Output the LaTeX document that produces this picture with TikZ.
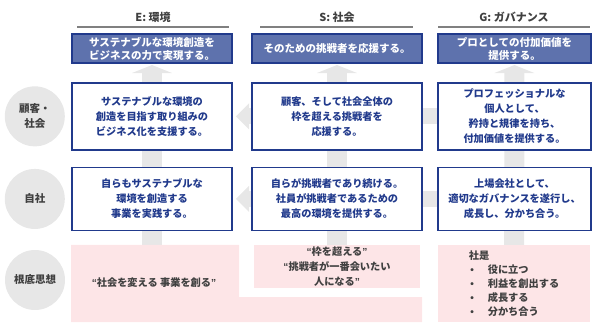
\documentclass[tikz,border=0pt]{standalone}
\usepackage{fontspec}
\setmainfont{Noto Sans CJK JP}
\newfontfamily\quotefont{Liberation Sans}
\usetikzlibrary{positioning, arrows.meta, backgrounds}
\definecolor{esgnavy}{RGB}{33,58,140}
\definecolor{esgblue}{RGB}{94,114,173}
\definecolor{esggray}{RGB}{231,231,231}
\definecolor{esgpink}{RGB}{253,229,231}
\definecolor{esgdark}{RGB}{64,64,64}
\definecolor{esgrule}{RGB}{128,128,128}
\newcommand{\oq}{{\quotefont\bfseries “}}
\newcommand{\cq}{{\quotefont\bfseries ”}}
\newcommand{\bul}{\makebox[19pt][l]{\hspace{1.5pt}{\quotefont •}}}

\begin{document}
\begin{tikzpicture}[
  x=1pt, y=-1pt,
  head/.style={font=\fontsize{11}{13}\selectfont\bfseries, text=esgdark},
  goal/.style={rectangle, draw=esgnavy, line width=1.6pt, fill=esgblue,
               text=white, align=center, minimum height=29.5pt, inner sep=0pt,
               font=\fontsize{10.5}{13}\selectfont\bfseries},
  act/.style={rectangle, draw=esgnavy, line width=1.6pt, fill=white,
              text=esgnavy, align=center, inner sep=0pt,
              font=\fontsize{10.2}{15}\selectfont\bfseries},
  tag/.style={circle, fill=esggray, text=esgdark, align=center,
              minimum size=60pt, inner sep=0pt,
              font=\fontsize{10.5}{15}\selectfont\bfseries},
  root/.style={rectangle, fill=esgpink, text=esgdark, inner sep=0pt,
               font=\fontsize{10.2}{15}\selectfont\bfseries},
  vflow/.style={line width=20pt, draw=esggray,
                -{Triangle[length=8pt, width=40pt, line width=0pt]}},
  hflow/.style={line width=16pt, draw=esggray,
                -{Triangle[length=13pt, width=26pt, line width=0pt]}},
  rule/.style={line width=1.2pt, draw=esgrule}
]
  \useasboundingbox (0,0) rectangle (600,331);

  % column heads
  \node[head] (etitle) at (153,17)   {E: 環境};
  \node[head] (stitle) at (337,17)   {S: 社会};
  \node[head] (gtitle) at (514,17)   {G: ガバナンス};
  \draw[rule] (77,27)  -- (229,27);
  \draw[rule] (260,27) -- (413,27);
  \draw[rule] (438,27) -- (590,27);

  % goals
  \node[goal, minimum width=160.4pt] (etop) at (152,48.5) {サステナブルな環境創造を\\ビジネスの力で実現する。};
  \node[goal, minimum width=170.4pt] (stop) at (337,48.5) {そのための挑戦者を応援する。};
  \node[goal, minimum width=153.4pt] (gtop) at (514.5,48.5) {プロとしての付加価値を\\提供する。};

  % customers / society
  \node[act, minimum width=160.4pt, minimum height=67pt, below=18pt of etop] (eclient)
    {サステナブルな環境の\\創造を目指す取り組みの\\ビジネス化を支援する。};
  \node[act, minimum width=170.4pt, minimum height=67pt, below=18pt of stop] (sclient)
    {顧客、そして社会全体の\\枠を超える挑戦者を\\応援する。};
  \node[act, minimum width=153.4pt, minimum height=67pt, below=18pt of gtop] (gclient)
    {プロフェッショナルな\\個人として、\\矜持と規律を持ち、\\付加価値を提供する。};

  % own company
  \node[act, minimum width=160.4pt, minimum height=63pt, below=16pt of eclient] (eself)
    {自らもサステナブルな\\環境を創造する\\事業を実践する。};
  \node[act, minimum width=170.4pt, minimum height=63pt, below=16pt of sclient] (sself)
    {自らが挑戦者であり続ける。\\社員が挑戦者であるための\\最高の環境を提供する。};
  \node[act, minimum width=153.4pt, minimum height=63pt, below=16pt of gclient] (gself)
    {上場会社として、\\適切なガバナンスを遂行し、\\成長し、分かち合う。};

  % row tags
  \node[tag, left=6pt of eclient] (client) {顧客・\\社会};
  \node[tag, left=6pt of eself]   (self)   {自社};
  \node[tag] (roots) at (35,280) {根底思想};

  % roots
  \fill[esgpink] (71,245) -- (239,245) -- (239,297) -- (422,297) -- (422,322) -- (71,322) -- cycle;
  \node[root] (ethought) at (154,283) {\oq 社会を変える 事業を創る\cq};
  \node[root, minimum width=166pt, minimum height=43pt, align=center] (sthought) at (337,266.5)
    {\oq 枠を超える\cq\\\oq 挑戦者が一番会いたい\\人になる\cq};
  \node[root, minimum width=152pt, minimum height=77pt, align=left,
        font=\fontsize{10.2}{14}\selectfont\bfseries] (gthought) at (514,283.5)
    {社是\\\bul 役に立つ\\\bul 利益を創出する\\\bul 成長する\\\bul 分かち合う};

  \begin{scope}[on background layer]
    \draw[vflow, shorten >=1pt] (etop |- ethought) -- (etop.south);
    \draw[vflow, shorten >=1pt] (sthought.center) -- (stop.south);
    \draw[vflow, shorten >=1pt] (gthought.center) -- (gtop.south);
    \draw[hflow, shorten >=3pt] (gclient.center) -- (eclient.east);
    \draw[hflow, shorten >=3pt] (gself.center) -- (eself.east);
  \end{scope}
\end{tikzpicture}
\end{document}
